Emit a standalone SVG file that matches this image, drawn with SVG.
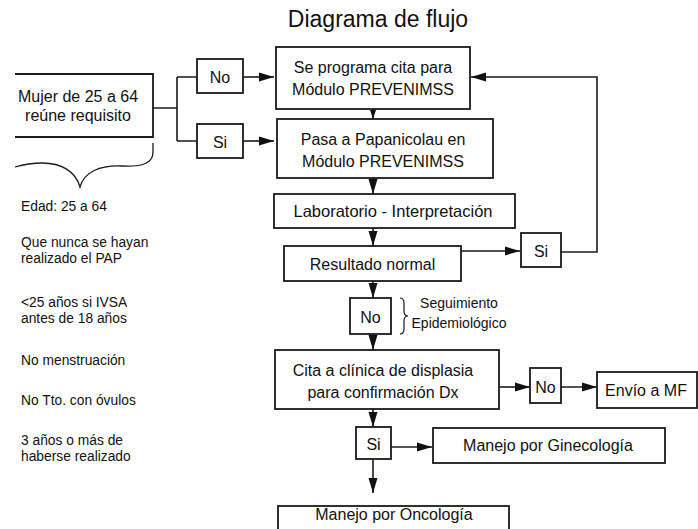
<svg xmlns="http://www.w3.org/2000/svg" width="698" height="529" viewBox="0 0 698 529">
<defs>
<style>
.box{fill:#fff;stroke:#1a1a1a;stroke-width:1.8}
.ln{fill:none;stroke:#1a1a1a;stroke-width:1.6}
.t{font-family:"Liberation Sans",Arial,sans-serif;font-size:16px;fill:#111;text-anchor:middle}
.s{font-family:"Liberation Sans",Arial,sans-serif;font-size:13.8px;fill:#111}
.b{font-family:"Liberation Sans",Arial,sans-serif;font-size:14px;fill:#111;text-anchor:middle}
.title{font-family:"Liberation Sans",Arial,sans-serif;font-size:23px;fill:#111;text-anchor:middle}
</style>
<marker id="ah" markerUnits="userSpaceOnUse" markerWidth="15" markerHeight="10" refX="15" refY="5" orient="auto">
<path d="M0,0.5 L15,5 L0,9.5 z" fill="#111"/>
</marker>
<marker id="ahs" markerUnits="userSpaceOnUse" markerWidth="9" markerHeight="6" refX="9" refY="3" orient="auto">
<path d="M0,0 L9,3 L0,6 z" fill="#111"/>
</marker>
</defs>
<rect width="698" height="529" fill="#fff"/>
<text class="title" x="378" y="27">Diagrama de flujo</text>

<g id="connectors">
<path class="ln" d="M153,108 H177 M177,77 V141 M177,77 H197 M177,141 H197"/>
<path class="ln" d="M243,77 H274" marker-end="url(#ah)"/>
<path class="ln" d="M243,141 H274" marker-end="url(#ah)"/>
<path class="ln" d="M373,109 V119" marker-end="url(#ahs)"/>
<path class="ln" d="M373,178 V194" marker-end="url(#ah)"/>
<path class="ln" d="M373,228 V246" marker-end="url(#ah)"/>
<path class="ln" d="M461,251 H520" marker-end="url(#ah)"/>
<path class="ln" d="M561,252 H597 V77 H471" marker-end="url(#ah)"/>
<path class="ln" d="M373,281 V298" marker-end="url(#ah)"/>
<path class="ln" d="M373,334 V350" marker-end="url(#ah)"/>
<path class="ln" d="M499,387 H530" marker-end="url(#ah)"/>
<path class="ln" d="M561,387 H597" marker-end="url(#ah)"/>
<path class="ln" d="M373,409 V427" marker-end="url(#ah)"/>
<path class="ln" d="M391,447 H432" marker-end="url(#ah)"/>
<path class="ln" d="M373,459 V493" marker-end="url(#ah)"/>
</g>

<g id="mujer">
<path class="box" d="M15,74 H153 V137 H15"/>
<text class="t" x="78" y="102">Mujer de 25 a 64</text>
<text class="t" x="78" y="121">reúne requisito</text>
</g>

<g id="requisitos">
<path class="ln" style="stroke-width:1.3" d="M153,143 V152 C153,163 143,167 122,166 C100,165 84,172 80,187 C76,172 62,163 42,163 C30,163 22,165 15,167"/>
<text class="s" x="21" y="211">Edad: 25 a 64</text>
<text class="s" x="21" y="247">Que nunca se hayan</text>
<text class="s" x="21" y="263">realizado el PAP</text>
<text class="s" x="21" y="307">&lt;25 años si IVSA</text>
<text class="s" x="21" y="323">antes de 18 años</text>
<text class="s" x="21" y="365">No menstruación</text>
<text class="s" x="21" y="405">No Tto. con óvulos</text>
<text class="s" x="21" y="445">3 años o más de</text>
<text class="s" x="21" y="461">haberse realizado</text>
</g>

<g id="no1">
<rect class="box" x="197" y="59" width="46" height="34"/>
<text class="t" x="220" y="83">No</text>
</g>
<g id="si1">
<rect class="box" x="197" y="124" width="46" height="34"/>
<text class="t" x="220" y="148">Si</text>
</g>

<g id="programa">
<rect class="box" x="276" y="47" width="194" height="62"/>
<text class="t" x="373" y="73">Se programa cita para</text>
<text class="t" x="373" y="95">Módulo PREVENIMSS</text>
</g>

<g id="pasa">
<rect class="box" x="277" y="119" width="216" height="59"/>
<text class="t" x="383" y="145">Pasa a Papanicolau en</text>
<text class="t" x="383" y="167">Módulo PREVENIMSS</text>
</g>

<g id="laboratorio">
<rect class="box" x="274" y="194" width="241" height="34"/>
<text class="t" x="393" y="217" style="font-size:16.5px">Laboratorio - Interpretación</text>
</g>

<g id="resultado">
<rect class="box" x="284" y="246" width="177" height="35"/>
<text class="t" x="372.5" y="270">Resultado normal</text>
</g>

<g id="si2">
<rect class="box" x="521" y="233" width="40" height="34"/>
<text class="t" x="541" y="257">Si</text>
</g>

<g id="no2">
<rect class="box" x="350" y="298" width="41" height="36"/>
<text class="t" x="370.5" y="323">No</text>
<path class="ln" style="stroke-width:1.2" d="M400,298 C403,298 404,300 404,303 L404,311 C404,314 405,316 408,316 C405,316 404,318 404,321 L404,329 C404,332 403,334 400,334"/>
<text class="b" x="459" y="308">Seguimiento</text>
<text class="b" x="459" y="328">Epidemiológico</text>
</g>

<g id="cita">
<rect class="box" x="275" y="350" width="224" height="59"/>
<text class="t" x="383" y="376">Cita a clínica de displasia</text>
<text class="t" x="383" y="398">para confirmación Dx</text>
</g>

<g id="no3">
<rect class="box" x="530" y="368" width="31" height="35"/>
<text class="t" x="545.5" y="393">No</text>
</g>

<g id="envio">
<rect class="box" x="597" y="372" width="100" height="36"/>
<text class="t" x="646" y="396">Envío a MF</text>
</g>

<g id="si3">
<rect class="box" x="356" y="427" width="35" height="32"/>
<text class="t" x="373.5" y="450">Si</text>
</g>

<g id="ginecologia">
<rect class="box" x="433" y="428" width="232" height="35"/>
<text class="t" x="548" y="451">Manejo por Ginecología</text>
</g>

<g id="oncologia">
<rect class="box" x="278" y="506" width="231" height="30"/>
<text class="t" x="394" y="520">Manejo por Oncología</text>
</g>
</svg>
